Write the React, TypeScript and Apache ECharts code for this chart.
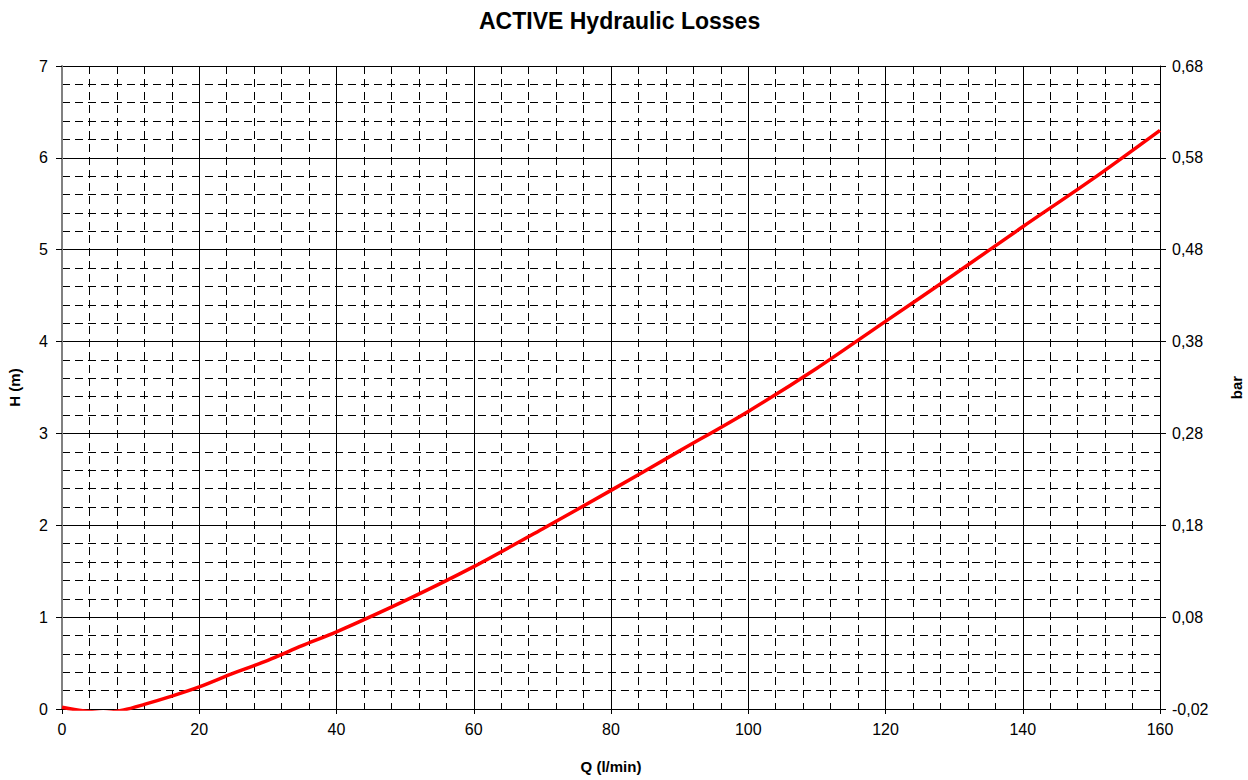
import React, { useEffect, useRef } from "react";
import * as echarts from "echarts";

const titleText = "ACTIVE Hydraulic Losses";
const xName = "Q (l/min)";
const yLeftName = "H (m)";
const yRightName = "bar";

const flowQ = [0, 3, 6, 9, 12, 16, 20, 25, 30, 35, 40, 50, 60, 70, 80, 90, 100, 110, 120, 130, 140, 150, 160];
const headH = [0.02, -0.02, -0.04, -0.01, 0.05, 0.14, 0.24, 0.39, 0.53, 0.69, 0.84, 1.18, 1.55, 1.96, 2.38, 2.81, 3.24, 3.71, 4.22, 4.73, 5.25, 5.76, 6.3];

const barTickLabels = ["-0,02", "0,08", "0,18", "0,28", "0,38", "0,48", "0,58", "0,68"];

const FONT = "'Liberation Sans', Arial, sans-serif";

export default function App() {
  const ref = useRef<HTMLDivElement>(null);
  useEffect(() => {
    if (!ref.current) return;
    const chart = echarts.init(ref.current, null, { renderer: "svg" });
    const minorLine = { show: true, lineStyle: { color: "#000", width: 1, type: [8, 5] as any } };
    const majorLine = { show: true, lineStyle: { color: "#000", width: 1, type: "solid" as const } };
    chart.setOption({
      animation: false,
      backgroundColor: "#fff",
      title: {
        text: titleText,
        left: 474,
        top: 4,
        textStyle: { fontFamily: FONT, fontWeight: "bold", fontSize: 23, color: "#000" },
      },
      grid: { left: 62, right: 88, top: 66, bottom: 71, containLabel: false, outerBoundsMode: "none" } as any,
      xAxis: {
        type: "value",
        min: 0,
        max: 160,
        interval: 20,
        name: xName,
        nameLocation: "middle",
        nameGap: 50,
        nameTextStyle: { fontFamily: FONT, fontWeight: "bold", fontSize: 15, color: "#000" },
        axisLine: { show: true, onZero: false, lineStyle: { color: "#000", width: 1 } },
        axisTick: { show: true, length: 5, lineStyle: { color: "#000" } },
        axisLabel: { fontFamily: FONT, fontSize: 16, color: "#000", margin: 12 },
        splitLine: majorLine,
        minorTick: { show: false, splitNumber: 5 },
        minorSplitLine: minorLine,
      },
      yAxis: [
        {
          type: "value",
          min: 0,
          max: 7,
          interval: 1,
          position: "left",
          name: yLeftName,
          nameLocation: "middle",
          nameGap: 40,
          nameTextStyle: { fontFamily: FONT, fontWeight: "bold", fontSize: 15, color: "#000" },
          axisLine: { show: true, onZero: false, lineStyle: { color: "#808080", width: 2 } },
          axisTick: { show: true, length: 6, lineStyle: { color: "#000" } },
          axisLabel: { fontFamily: FONT, fontSize: 16, color: "#000", margin: 14 },
          splitLine: majorLine,
          minorTick: { show: false, splitNumber: 5 },
          minorSplitLine: minorLine,
        },
        {
          type: "value",
          min: 0,
          max: 7,
          interval: 1,
          position: "right",
          name: yRightName,
          nameLocation: "middle",
          nameGap: 69,
          nameTextStyle: { fontFamily: FONT, fontWeight: "bold", fontSize: 15, color: "#000" },
          axisLine: { show: true, onZero: false, lineStyle: { color: "#000", width: 1 } },
          axisTick: { show: true, length: 6, lineStyle: { color: "#000" } },
          axisLabel: {
            fontFamily: FONT,
            fontSize: 16,
            color: "#000",
            margin: 12,
            formatter: (v: number) => barTickLabels[Math.round(v)] ?? "",
          },
          splitLine: { show: false },
        },
      ],
      series: [
        {
          type: "line",
          data: flowQ.map((q, i) => [q, headH[i]]),
          smooth: 0.3,
          showSymbol: false,
          clip: true,
          lineStyle: { color: "#ff0000", width: 3.5 },
          itemStyle: { color: "#ff0000" },
        },
      ],
    });
    return () => chart.dispose();
  }, []);
  return (
    <div
      ref={ref}
      style={{ position: "absolute", left: 0, top: 0, width: 1248, height: 780, background: "#fff" }}
    />
  );
}
